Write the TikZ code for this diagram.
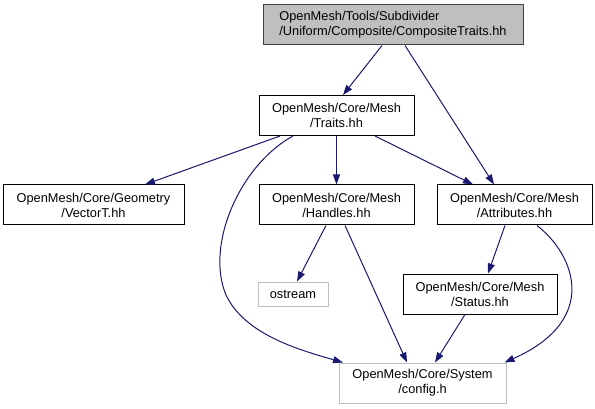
\documentclass[tikz,border=0pt]{standalone}
\usepackage{fontspec}
\setmainfont{Liberation Sans}
\usepackage{tikz}
\usetikzlibrary{arrows.meta, calc}

\definecolor{edgeblue}{HTML}{191970}
\definecolor{grayfill}{HTML}{BFBFBF}
\definecolor{grayline}{HTML}{BFBFBF}

\tikzset{
  file/.style={draw=black, line width=1pt, inner sep=0pt, minimum height=40pt,
    align=center, font=\fontsize{12.8}{15}\selectfont},
  extfile/.style={file, draw=grayline},
  edge/.style={draw=edgeblue, line width=1pt, -{Triangle[length=10pt,width=7pt]}},
}

\begin{document}
\begin{tikzpicture}[x=1pt, y=-1pt]
    \useasboundingbox (0,0) rectangle (595,409);
    % files
    \node[file, align=left, fill=grayfill, draw=black!75, minimum width=260pt] (comp) at (393,25)
        {OpenMesh/Tools/Subdivider\\/Uniform/Composite/CompositeTraits.hh};
    \node[file, minimum width=155pt] (traits) at (336.5,115.5) {OpenMesh/Core/Mesh\\/Traits.hh};
    \node[file, minimum width=181pt] (vect) at (93.5,205) {OpenMesh/Core/Geometry\\/VectorT.hh};
    \node[file, minimum width=155pt] (handles) at (336.5,205) {OpenMesh/Core/Mesh\\/Handles.hh};
    \node[file, minimum width=155pt] (attr) at (514.5,205) {OpenMesh/Core/Mesh\\/Attributes.hh};
    \node[extfile, minimum width=70pt, minimum height=24pt] (ostr) at (293,294) {ostream};
    \node[file, minimum width=154pt] (status) at (480,294) {OpenMesh/Core/Mesh\\/Status.hh};
    \node[extfile, minimum width=167pt] (config) at (422.5,383) {OpenMesh/Core/System\\/config.h};
    % straight includes: source/target/shift at source/shift at target
    \foreach \a/\b/\s/\t in {comp/traits/-11/6.5, comp/attr/12/-20.5,
        traits/vect/-56.5/51.5, traits/handles/0/0, traits/attr/38.5/-41.5,
        handles/ostr/-10.5/4, handles/config/8.5/-15.5,
        attr/status/-9.5/8, status/config/-15/12.5} {
        \draw[edge] ([xshift=\s pt]\a.south) -- ([xshift=\t pt]\b.north);
    }
    % bent includes
    \draw[edge] ([xshift=-43.5pt]traits.south) .. controls (240,165) and (205,245) .. (226,295)
        .. controls (245,335) and (300,350) .. ([xshift=-79.5pt]config.north);
    \draw[edge] ([xshift=22.5pt]attr.south) .. controls (575,255) and (600,320) .. ([xshift=82pt]config.north);
\end{tikzpicture}
\end{document}
